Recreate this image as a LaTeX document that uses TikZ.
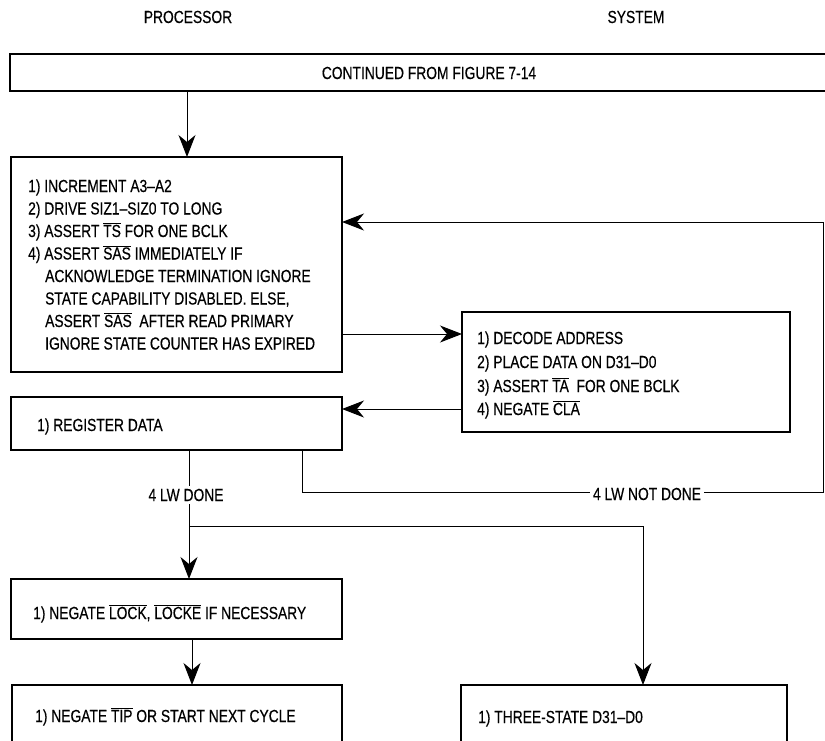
\documentclass[tikz,border=0pt]{standalone}
\usepackage{fontspec}
\setmainfont{Liberation Sans}[FakeStretch=0.79,FakeBold=0.4]
\usetikzlibrary{arrows.meta}
\newcommand{\ovl}[1]{$\overline{\hbox{#1}}$}
\begin{document}
\begin{tikzpicture}[x=1pt,y=-1pt,
  every node/.style={font=\fontsize{17.5}{20}\selectfont},
  box/.style={draw, line width=1.7pt, inner sep=0pt, outer sep=0pt, anchor=north west},
  txt/.style={anchor=base west, inner sep=0pt},
  link/.style={line width=1pt},
  arr/.style={link, -{Stealth[length=22pt,width=17pt,inset=7pt]}},
  lbl/.style={fill=white, inner sep=3pt, anchor=base}]
\useasboundingbox (0,0) rectangle (825,740);
\clip (0,0) rectangle (825,740);

% headers
\node[lbl, fill=none] (hp) at (188,23) {PROCESSOR};
\node[lbl, fill=none] (hs) at (636,23) {SYSTEM};

% boxes
\node[box, minimum width=825pt, minimum height=37pt] (top) at (10,54) {};
\node[lbl, fill=none] (toptxt) at (429,79) {CONTINUED FROM FIGURE 7-14};

\node[box, minimum width=331pt, minimum height=215pt] (b1) at (11,157) {};
\node[box, minimum width=328pt, minimum height=120pt] (b2) at (462,312) {};
\node[box, minimum width=331pt, minimum height=53pt] (b3) at (11,397) {};
\node[box, minimum width=331pt, minimum height=60pt] (b4) at (11,579) {};
\node[box, minimum width=330pt, minimum height=80pt] (b5) at (12,685) {};
\node[box, minimum width=326pt, minimum height=80pt] (b6) at (461,685) {};

% box 1 text
\node[txt] (t11) at (28,192) {1) INCREMENT A3--A2};
\node[txt] (t12) at (28,214.5) {2) DRIVE SIZ1--SIZ0 TO LONG};
\node[txt] (t13) at (28,237) {3) ASSERT \ovl{TS} FOR ONE BCLK};
\node[txt] (t14) at (28,259.5) {4) ASSERT \ovl{SAS} IMMEDIATELY IF};
\node[txt] (t15) at (45,282) {ACKNOWLEDGE TERMINATION IGNORE};
\node[txt] (t16) at (45,304.5) {STATE CAPABILITY DISABLED. ELSE,};
\node[txt] (t17) at (45,327) {ASSERT \ovl{SAS}\ \ AFTER READ PRIMARY};
\node[txt] (t18) at (45,349.5) {IGNORE STATE COUNTER HAS EXPIRED};

% box 2 text
\node[txt] (t21) at (477,344) {1) DECODE ADDRESS};
\node[txt] (t22) at (477,368) {2) PLACE DATA ON D31--D0};
\node[txt] (t23) at (477,392) {3) ASSERT \ovl{TA}\ \ FOR ONE BCLK};
\node[txt] (t24) at (477,415) {4) NEGATE \ovl{CLA}};

% other texts
\node[txt] (t31) at (37,431) {1) REGISTER DATA};
\node[txt] (t41) at (33,619) {1) NEGATE \ovl{LOCK}, \ovl{LOCKE} IF NECESSARY};
\node[txt] (t51) at (35,722) {1) NEGATE \ovl{TIP} OR START NEXT CYCLE};
\node[txt] (t61) at (478,723) {1) THREE-STATE D31--D0};

% connectors
\coordinate (ax) at (187,0);
\draw[arr] (top.south -| ax) -- (b1.north -| ax);

\coordinate (rx) at (823.5,222);
\draw[arr] (rx) -- (b1.east |- rx);

\coordinate (y1) at (0,334);
\draw[arr] (b1.east |- y1) -- (b2.west |- y1);

\coordinate (y2) at (0,409);
\draw[arr] (b2.west |- y2) -- (b3.east |- y2);

\coordinate (nx) at (302,492);
\draw[link] (b3.south -| nx) -- (nx) -- (rx |- nx) -- (rx);
\node[lbl] (lnd) at (647,500) {4 LW NOT DONE};

\coordinate (dx) at (189,526);
\coordinate (sx) at (643,526);
\draw[arr] (b3.south -| dx) -- (b4.north -| dx);
\draw[arr] (dx) -- (sx) -- (b6.north -| sx);
\node[lbl] (ld) at (186,501) {4 LW DONE};

\coordinate (ex) at (192,0);
\draw[arr] (b4.south -| ex) -- (b5.north -| ex);
\end{tikzpicture}
\end{document}
